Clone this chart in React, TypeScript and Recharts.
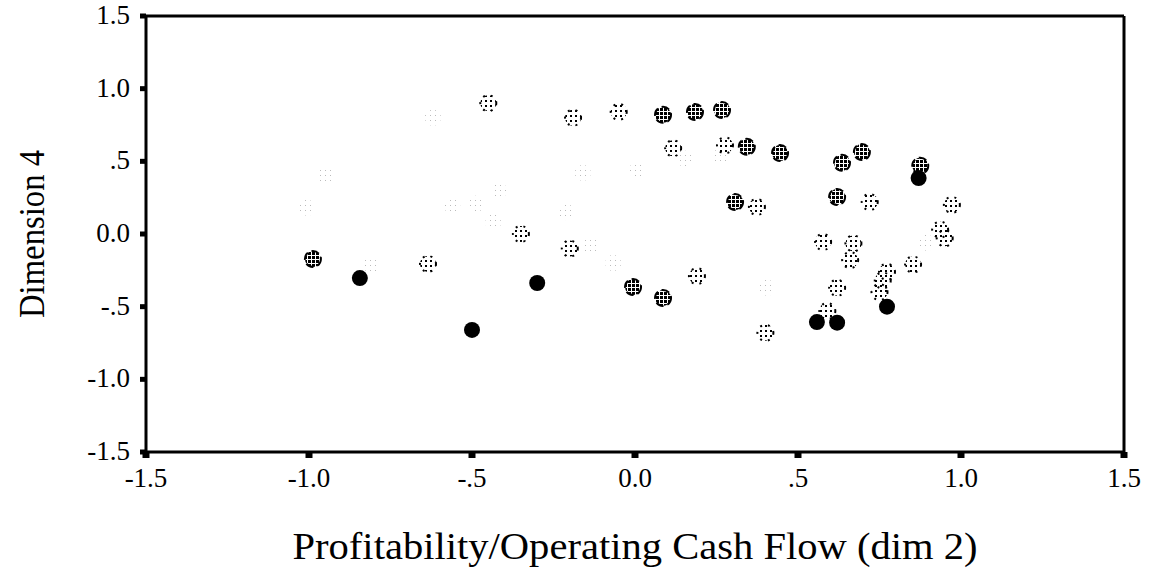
import { ScatterChart, Scatter, XAxis, YAxis, ReferenceLine } from "recharts"

// points, grouped by how dark the marker prints
const solidPoints = [
  { x: -0.844, y: -0.303 },
  { x: -0.5, y: -0.66 },
  { x: -0.3, y: -0.337 },
  { x: 0.773, y: -0.5 },
  { x: 0.558, y: -0.606 },
  { x: 0.62, y: -0.61 },
  { x: 0.87, y: 0.385 },
]

const darkPoints = [
  { x: -0.988, y: -0.172 },
  { x: -0.006, y: -0.365 },
  { x: 0.086, y: -0.44 },
  { x: 0.086, y: 0.82 },
  { x: 0.184, y: 0.84 },
  { x: 0.267, y: 0.853 },
  { x: 0.343, y: 0.6 },
  { x: 0.445, y: 0.557 },
  { x: 0.635, y: 0.49 },
  { x: 0.696, y: 0.564 },
  { x: 0.875, y: 0.47 },
  { x: 0.307, y: 0.22 },
  { x: 0.62, y: 0.255 },
]

const mediumPoints = [
  { x: -0.635, y: -0.206 },
  { x: -0.2, y: -0.1 },
  { x: -0.35, y: 0.0 },
  { x: 0.19, y: -0.29 },
  { x: 0.276, y: 0.61 },
  { x: 0.117, y: 0.59 },
  { x: 0.374, y: 0.186 },
  { x: 0.72, y: 0.22 },
  { x: 0.972, y: 0.2 },
  { x: 0.936, y: 0.03 },
  { x: 0.95, y: -0.03 },
  { x: 0.577, y: -0.055 },
  { x: 0.67, y: -0.065 },
  { x: 0.66, y: -0.18 },
  { x: 0.853, y: -0.21 },
  { x: 0.773, y: -0.26 },
  { x: 0.76, y: -0.32 },
  { x: 0.75, y: -0.4 },
  { x: 0.62, y: -0.37 },
  { x: 0.59, y: -0.53 },
  { x: 0.4, y: -0.68 },
  { x: -0.05, y: 0.84 },
  { x: -0.19, y: 0.8 },
  { x: -0.45, y: 0.9 },
]

const faintPoints = [
  { x: -0.81, y: -0.21 },
  { x: -1.006, y: 0.18 },
  { x: -0.95, y: 0.405 },
  { x: -0.62, y: 0.8 },
  { x: -0.485, y: 0.21 },
  { x: -0.56, y: 0.19 },
  { x: -0.16, y: 0.42 },
  { x: 0.006, y: 0.44 },
  { x: -0.21, y: 0.15 },
  { x: -0.435, y: 0.08 },
  { x: -0.137, y: -0.076 },
  { x: -0.067, y: -0.2 },
  { x: 0.405, y: -0.37 },
  { x: 0.895, y: -0.06 },
  { x: 0.15, y: 0.52 },
  { x: -0.417, y: 0.3 },
  { x: 0.26, y: 0.53 },
]

const axisTicks = [-1.5, -1.0, -0.5, 0, 0.5, 1.0, 1.5]

const font = "Liberation Serif"

const fmt = (v: number) => {
  const s = v.toFixed(1)
  if (s === "0.5") return ".5"
  if (s === "-0.5") return "-.5"
  return s
}

const XTick = (props: any) => {
  const { x, y, payload } = props
  return (
    <text x={x} y={y + 25} textAnchor="middle" fontFamily={font} fontSize={27} fill="#000">
      {fmt(payload.value)}
    </text>
  )
}

const YTick = (props: any) => {
  const { x, y, payload } = props
  return (
    <text x={x} y={y + 8} textAnchor="end" fontFamily={font} fontSize={27} fill="#000">
      {fmt(payload.value)}
    </text>
  )
}

const makeShape = (fill: string, stroke: string, dash?: string) => (props: any) => {
  const { cx, cy } = props
  if (cx == null || cy == null) return <g />
  return (
    <circle
      cx={cx}
      cy={cy}
      r={8}
      fill={fill}
      stroke={stroke}
      strokeWidth={stroke === "none" ? 0 : 2}
      strokeDasharray={dash}
    />
  )
}

const SolidShape = makeShape("#000", "none")
const DarkShape = makeShape("url(#ditherDark)", "#000", "8 4")
const MediumShape = makeShape("url(#ditherMid)", "#000", "2 6")
const FaintShape = makeShape("url(#ditherFaint)", "none")

export default function App() {
  return (
    <div style={{ position: "absolute", left: 0, top: 0, background: "#fff" }}>
      <ScatterChart
        width={1151}
        height={580}
        margin={{ top: 16, right: 27, left: 0, bottom: 0 }}
      >
        <defs>
          <pattern id="ditherDark" width="4" height="4" patternUnits="userSpaceOnUse">
            <rect x="0" y="0" width="3" height="3" fill="#000" />
          </pattern>
          <pattern id="ditherMid" width="5" height="5" patternUnits="userSpaceOnUse">
            <rect x="0" y="0" width="2" height="2" fill="#000" />
          </pattern>
          <pattern id="ditherFaint" width="5" height="5" patternUnits="userSpaceOnUse">
            <rect x="0" y="0" width="1" height="1" fill="#bbb" />
          </pattern>
        </defs>
        <XAxis
          type="number"
          dataKey="x"
          domain={[-1.5, 1.5]}
          ticks={axisTicks}
          height={128}
          axisLine={{ stroke: "#000", strokeWidth: 3 }}
          tickLine={{ stroke: "#000", strokeWidth: 7 }}
          tickSize={6}
          tickMargin={4}
          tick={<XTick />}
          label={{
            content: ({ viewBox }: any) => (
              <text
                x={viewBox.x + viewBox.width / 2}
                y={viewBox.y + 94}
                textAnchor="middle"
                dominantBaseline="central"
                fontFamily={font}
                fontSize={38}
                fill="#000"
                textLength={685}
                lengthAdjust="spacingAndGlyphs"
              >
                Profitability/Operating Cash Flow (dim 2)
              </text>
            ),
          }}
        />
        <YAxis
          type="number"
          dataKey="y"
          domain={[-1.5, 1.5]}
          ticks={axisTicks}
          width={146}
          axisLine={{ stroke: "#000", strokeWidth: 3 }}
          tickLine={{ stroke: "#000", strokeWidth: 5 }}
          tickSize={6}
          tickMargin={10}
          tick={<YTick />}
          label={{
            content: ({ viewBox }: any) => {
              const cy = viewBox.y + viewBox.height / 2
              return (
                <text
                  x={32}
                  y={cy}
                  transform={`rotate(-90 32 ${cy})`}
                  textAnchor="middle"
                  dominantBaseline="central"
                  fontFamily={font}
                  fontSize={35}
                  fill="#000"
                  textLength={168}
                  lengthAdjust="spacingAndGlyphs"
                >
                  Dimension 4
                </text>
              )
            },
          }}
        />
        <ReferenceLine y={1.5} stroke="#000" strokeWidth={3} />
        <ReferenceLine x={1.5} stroke="#000" strokeWidth={3} />
        <Scatter data={faintPoints} shape={FaintShape} isAnimationActive={false} />
        <Scatter data={mediumPoints} shape={MediumShape} isAnimationActive={false} />
        <Scatter data={darkPoints} shape={DarkShape} isAnimationActive={false} />
        <Scatter data={solidPoints} shape={SolidShape} isAnimationActive={false} />
      </ScatterChart>
    </div>
  )
}
